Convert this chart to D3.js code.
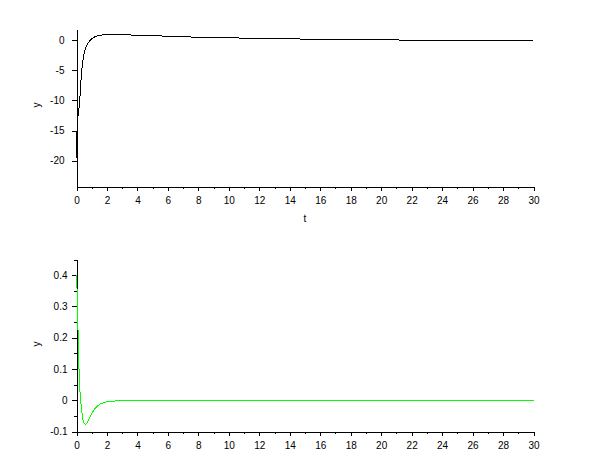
<!DOCTYPE html>
<html>
<head>
<meta charset="utf-8">
<script src="https://cdn.jsdelivr.net/npm/d3@7"></script>
<style>
html,body{margin:0;padding:0;background:#fff;}
svg{display:block;}
text{font-family:"Liberation Sans",Arial,sans-serif;font-size:10px;fill:#000;}
</style>
</head>
<body>
<svg id="chart" width="610" height="460"></svg>
<script>
// ---- data ----
const tTop = [0, 0.04, 0.1, 0.2, 0.3, 0.35, 0.45, 0.55, 0.7, 0.85, 1.0, 1.2, 1.5, 1.8, 2.5, 3.5, 5, 7.5, 10.5, 14.5, 18, 21.2, 25, 30];
const yTop = [-19.6, -14.6, -12.5, -10.5, -6.5, -4.8, -2.8, -1.6, -0.7, -0.1, 0.3, 0.6, 0.85, 0.95, 1.0, 0.92, 0.8, 0.58, 0.42, 0.25, 0.15, 0.08, 0.04, 0.01];

const tBot = [0, 0.04, 0.11, 0.17, 0.24, 0.33, 0.41, 0.5, 0.6, 0.7, 0.8, 1.0, 1.2, 1.4, 1.6, 2.0, 2.6, 3.0, 30];
const yBot = [0.4, 0.35, 0.2, 0.09, 0.015, -0.027, -0.06, -0.073, -0.077, -0.072, -0.062, -0.042, -0.027, -0.017, -0.011, -0.005, -0.002, 0, 0];

const xTicks = [0, 2, 4, 6, 8, 10, 12, 14, 16, 18, 20, 22, 24, 26, 28, 30];
const xMinor = [1, 3, 5, 7, 9, 11, 13, 15, 17, 19, 21, 23, 25, 27, 29];
const yTopTicks = [0, -5, -10, -15, -20];
const yBotTicks = [0.4, 0.3, 0.2, 0.1, 0, -0.1];
const yBotMinor = [0.45, 0.35, 0.25, 0.15, 0.05, -0.05];

const topColor = "#000000";
const botColor = "#00ff00";

// ---- drawing ----
const svg = d3.select("#chart");
const hy = f => (d => f(d).replace("\u2212", "-"));

function panel(cfg) {
  const x = d3.scaleLinear().domain([0, 30]).range([76, 533]);
  const y = d3.scaleLinear().domain(cfg.yDomain).range(cfg.yRange);
  const g = svg.append("g").attr("transform", "translate(0.5,0.5)");

  // x axis
  g.append("g").attr("transform", `translate(0,${cfg.yRange[0]})`)
    .call(d3.axisBottom(x).tickValues(xTicks).tickSize(4).tickSizeOuter(0).tickPadding(6).tickFormat(hy(d3.format("d"))));
  g.append("g").attr("transform", `translate(0,${cfg.yRange[0]})`)
    .call(d3.axisBottom(x).tickValues(xMinor).tickSize(2).tickSizeOuter(0).tickFormat(""))
    .select(".domain").remove();

  // y axis
  g.append("g").attr("transform", `translate(76,0)`)
    .call(d3.axisLeft(y).tickValues(cfg.yTicks).tickSize(5).tickSizeOuter(0).tickPadding(cfg.yPad).tickFormat(cfg.fmt));
  if (cfg.yMinor) {
    g.append("g").attr("transform", `translate(76,0)`)
      .call(d3.axisLeft(y).tickValues(cfg.yMinor).tickSize(3).tickSizeOuter(0).tickFormat(""))
      .select(".domain").remove();
  }

  g.selectAll("g").attr("font-family", null).attr("font-size", null);
  g.selectAll("path.domain, .tick line").attr("stroke", "#000").attr("shape-rendering", "crispEdges");

  // line
  const pts = cfg.t.map((d, i) => [d, cfg.v[i]]);
  g.append("path")
    .datum(pts)
    .attr("fill", "none")
    .attr("stroke", cfg.color)
    .attr("stroke-width", 1)
    .attr("shape-rendering", "crispEdges")
    .attr("d", d3.line().x(d => x(d[0])).y(d => y(d[1])));

  // y label
  svg.append("text")
    .attr("transform", `translate(${cfg.ylx},${cfg.yly}) rotate(-90)`)
    .attr("text-anchor", "middle")
    .text("y");
  if (cfg.xlabel) {
    svg.append("text")
      .attr("x", 305).attr("y", cfg.yRange[0] + 36)
      .attr("text-anchor", "middle")
      .text(cfg.xlabel);
  }
}

panel({
  t: tTop, v: yTop, color: topColor,
  yDomain: [-24.33, 1.83], yRange: [186, 29],
  yTicks: yTopTicks, yMinor: null, yPad: 7, fmt: hy(d3.format("d")),
  ylx: 40, yly: 105, xlabel: "t"
});

panel({
  t: tBot, v: yBot, color: botColor,
  yDomain: [-0.1, 0.45], yRange: [431, 259],
  yTicks: yBotTicks, yMinor: yBotMinor, yPad: 4, fmt: hy(d => d === 0 ? "0" : d3.format(".1f")(d)),
  ylx: 40, yly: 344, xlabel: null
});
</script>
</body>
</html>
